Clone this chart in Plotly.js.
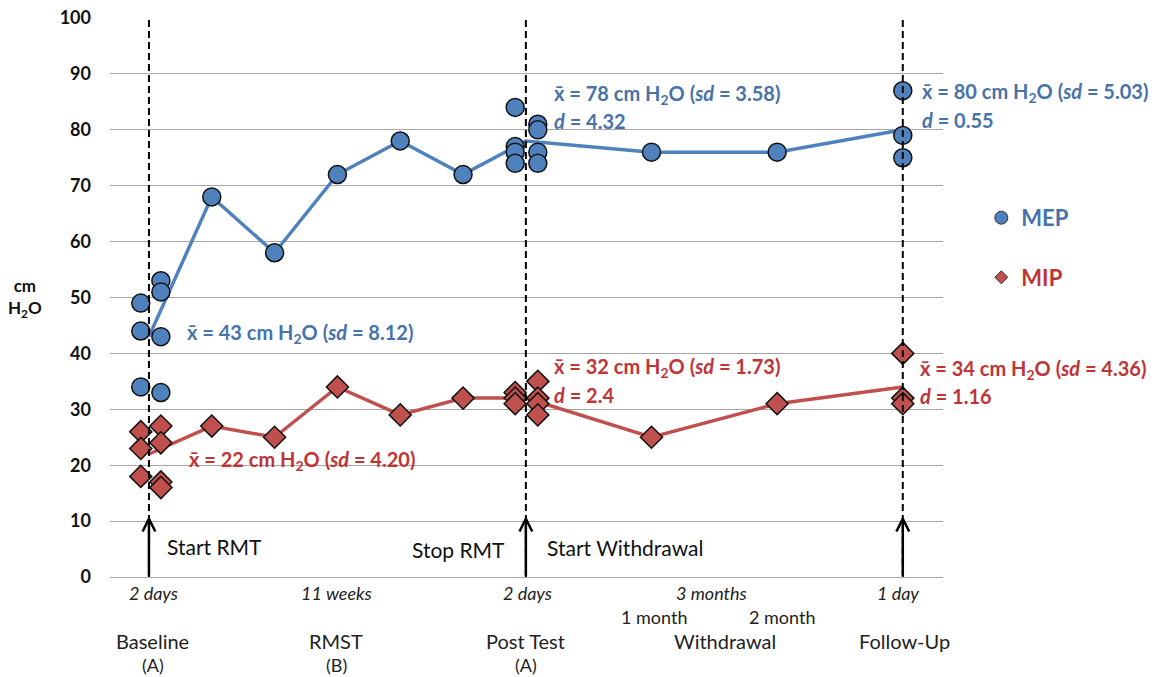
<!DOCTYPE html>
<html>
<head>
<meta charset="utf-8">
<script src="https://cdn.plot.ly/plotly-3.0.1.min.js"></script>
<style>html,body{margin:0;padding:0;background:#fff;}#chart{width:1154px;height:677px;}</style>
</head>
<body>
<div id="chart"></div>
<script>
// ---- data ----
const visitX = [0, 1, 2, 3, 4, 5, 6, 8, 10, 12];
const mepMean = [43, 68, 58, 72, 78, 72, 78, 76, 76, 80];
const mipMean = [22, 27, 25, 34, 29, 32, 32, 25, 31, 34];

const mepPtX = [-0.13, -0.13, -0.13, 0.19, 0.19, 0.19, 0.19, 1, 2, 3, 4, 5, 5.83, 5.83, 5.83, 5.83, 6.19, 6.19, 6.19, 6.19, 8, 10, 12, 12, 12];
const mepPtY = [49, 44, 34, 53, 51, 43, 33, 68, 58, 72, 78, 72, 84, 77, 76, 74, 81, 80, 76, 74, 76, 76, 87, 79, 75];

const mipPtX = [-0.13, -0.13, -0.13, 0.19, 0.19, 0.19, 0.19, 1, 2, 3, 4, 5, 5.83, 5.83, 5.83, 6.19, 6.19, 6.19, 6.19, 8, 10, 12, 12, 12];
const mipPtY = [26, 23, 18, 27, 24, 17, 16, 27, 25, 34, 29, 32, 33, 32, 31, 35, 32, 31, 29, 25, 31, 40, 32, 31];

const yTicks = [0, 10, 20, 30, 40, 50, 60, 70, 80, 90, 100];

const phaseLabels = ['Baseline', 'RMST', 'Post Test', 'Withdrawal', 'Follow-Up'];
const phaseSub = ['(A)', '(B)', '(A)', '', ''];
const phaseX = [0.06, 2.98, 6.0, 9.17, 12.02];

const durationLabels = ['2 days', '11 weeks', '2 days', '3 months', '1 day'];
const durationX = [0.08, 2.98, 6.02, 8.95, 11.92];

const monthLabels = ['1 month', '2 month'];
const monthX = [8.04, 10.07];

const phaseLineX = [0, 6, 12];
const eventLabels = ['Start RMT', 'Stop RMT', 'Start Withdrawal'];

const mepStats = ['x̄ = 43 cm H<sub>2</sub>O (<i>sd</i> = 8.12)', 'x̄ = 78 cm H<sub>2</sub>O (<i>sd</i> = 3.58)', 'x̄ = 80 cm H<sub>2</sub>O (<i>sd</i> = 5.03)'];
const mepEffect = ['', '<i>d</i> = 4.32', '<i>d</i> = 0.55'];
const mipStats = ['x̄ = 22 cm H<sub>2</sub>O (<i>sd</i> = 4.20)', 'x̄ = 32 cm H<sub>2</sub>O (<i>sd</i> = 1.73)', 'x̄ = 34 cm H<sub>2</sub>O (<i>sd</i> = 4.36)'];
const mipEffect = ['', '<i>d</i> = 2.4', '<i>d</i> = 1.16'];

// ---- styles ----
const BLUE = '#4F81BD', RED = '#C0504D';
const BLUE_T = '#4773AA', RED_T = '#BF3436';
const FONT = 'Lato, "Open Sans", sans-serif';

const traces = [
  {x: visitX, y: mepMean, mode: 'lines', line: {color: BLUE, width: 3.5}, showlegend: false, hoverinfo: 'skip'},
  {x: visitX, y: mipMean, mode: 'lines', line: {color: RED, width: 3.5}, showlegend: false, hoverinfo: 'skip'},
  {x: mepPtX, y: mepPtY, mode: 'markers', showlegend: false,
   marker: {symbol: 'circle', size: 18, color: BLUE, line: {color: '#111', width: 1.5}}},
  {x: mipPtX, y: mipPtY, mode: 'markers', showlegend: false,
   marker: {symbol: 'diamond', size: 17, color: RED, line: {color: '#111', width: 1.5}}},
  {x: [null], y: [null], mode: 'markers', name: '<span style="color:' + BLUE_T + '"><b>MEP</b></span>', legendgroup: 'a',
   marker: {symbol: 'circle', size: 13, color: BLUE, line: {color: '#333', width: 1}}},
  {x: [null], y: [null], mode: 'markers', name: '<span style="color:' + RED_T + '"><b>MIP</b></span>', legendgroup: 'b',
   marker: {symbol: 'diamond', size: 10, color: RED, line: {color: '#333', width: 1}}}
];

const annotations = [];
// y-axis title
annotations.push({xref: 'paper', yref: 'paper', x: -0.102, y: 0.499, xanchor: 'center', yanchor: 'middle',
  text: '<b>cm<br>H<sub>2</sub>O</b>', showarrow: false, font: {family: FONT, size: 17, color: '#111'}});
// duration labels
durationLabels.forEach((t, i) => annotations.push({xref: 'x', yref: 'paper', x: durationX[i], y: 0, yshift: -16,
  xanchor: 'center', yanchor: 'middle', text: '<i>' + t + '</i>', showarrow: false, font: {family: FONT, size: 18, color: '#222'}}));
monthLabels.forEach((t, i) => annotations.push({xref: 'x', yref: 'paper', x: monthX[i], y: 0, yshift: -40,
  xanchor: 'center', yanchor: 'middle', text: t, showarrow: false, font: {family: FONT, size: 18, color: '#222'}}));
phaseLabels.forEach((t, i) => annotations.push({xref: 'x', yref: 'paper', x: phaseX[i], y: 0, yshift: -64,
  xanchor: 'center', yanchor: 'middle', text: t, showarrow: false, font: {family: FONT, size: 20, color: '#222'}}));
phaseSub.forEach((t, i) => { if (t) annotations.push({xref: 'x', yref: 'paper', x: phaseX[i], y: 0, yshift: -88,
  xanchor: 'center', yanchor: 'middle', text: t, showarrow: false, font: {family: FONT, size: 18, color: '#222'}}); });
// arrows
phaseLineX.forEach(xv => annotations.push({xref: 'x', yref: 'y', axref: 'x', ayref: 'y', x: xv, y: 10.9, ax: xv, ay: 0,
  text: '', showarrow: true, arrowhead: 5, arrowsize: 1, arrowwidth: 2.5, arrowcolor: '#000', standoff: 0, startstandoff: 0}));
// event labels
annotations.push({xref: 'x', yref: 'y', x: 0.25, y: 5.5, xanchor: 'left', yanchor: 'middle', text: eventLabels[0], showarrow: false, font: {family: FONT, size: 21, color: '#111'}});
annotations.push({xref: 'x', yref: 'y', x: 5.7, y: 5.0, xanchor: 'right', yanchor: 'middle', text: eventLabels[1], showarrow: false, font: {family: FONT, size: 21, color: '#111'}});
annotations.push({xref: 'x', yref: 'y', x: 6.3, y: 5.3, xanchor: 'left', yanchor: 'middle', text: eventLabels[2], showarrow: false, font: {family: FONT, size: 21, color: '#111'}});
// stats
const statPos = [
  {mx: 0.573, my: 43.65, dy: null, ix: 0.605, iy: 20.9, idy: null},
  {mx: 6.414, my: 86.4, dy: 81.6, ix: 6.414, iy: 37.4, idy: 32.6},
  {mx: 12.27, my: 86.6, dy: 81.75, ix: 12.24, iy: 37.2, idy: 32.4}
];
const sfont = c => ({family: FONT, size: 20, color: c, weight: 'bold'});
statPos.forEach((p, i) => {
  annotations.push({xref: 'x', yref: 'y', x: p.mx, y: p.my, xanchor: 'left', yanchor: 'middle', text: '<b>' + mepStats[i] + '</b>', showarrow: false, font: sfont(BLUE_T)});
  if (mepEffect[i]) annotations.push({xref: 'x', yref: 'y', x: p.mx, y: p.dy, xanchor: 'left', yanchor: 'middle', text: '<b>' + mepEffect[i] + '</b>', showarrow: false, font: sfont(BLUE_T)});
  annotations.push({xref: 'x', yref: 'y', x: p.ix, y: p.iy, xanchor: 'left', yanchor: 'middle', text: '<b>' + mipStats[i] + '</b>', showarrow: false, font: sfont(RED_T)});
  if (mipEffect[i]) annotations.push({xref: 'x', yref: 'y', x: p.ix, y: p.idy, xanchor: 'left', yanchor: 'middle', text: '<b>' + mipEffect[i] + '</b>', showarrow: false, font: sfont(RED_T)});
});

const shapes = phaseLineX.map(xv => ({type: 'line', xref: 'x', yref: 'y', x0: xv, x1: xv, y0: 0, y1: 100,
  line: {color: '#000', width: 2, dash: '7px,4px'}, layer: 'above'}));

const layout = {
  width: 1154, height: 677,
  margin: {l: 110, r: 211, t: 18, b: 100},
  paper_bgcolor: '#fff', plot_bgcolor: '#fff',
  font: {family: FONT, color: '#111'},
  xaxis: {range: [-0.62, 12.64], showgrid: false, zeroline: false, showticklabels: false, ticks: '', showline: false, fixedrange: true},
  yaxis: {range: [0, 100], tickvals: yTicks, showgrid: true, gridcolor: '#A6A6A6', gridwidth: 1,
    zeroline: true, zerolinecolor: '#A6A6A6', zerolinewidth: 1, showline: false, ticks: '',
    ticklabelstandoff: 18, tickfont: {family: FONT, size: 18, color: '#111', weight: 'bold'}, fixedrange: true},
  showlegend: true,
  legend: {x: 1.046, xanchor: 'left', y: 0.68, yanchor: 'top', tracegroupgap: 28, font: {family: FONT, size: 22}, bgcolor: 'rgba(0,0,0,0)'},
  annotations: annotations,
  shapes: shapes
};

Plotly.newPlot('chart', traces, layout, {displayModeBar: false, staticPlot: true});
</script>
</body>
</html>
